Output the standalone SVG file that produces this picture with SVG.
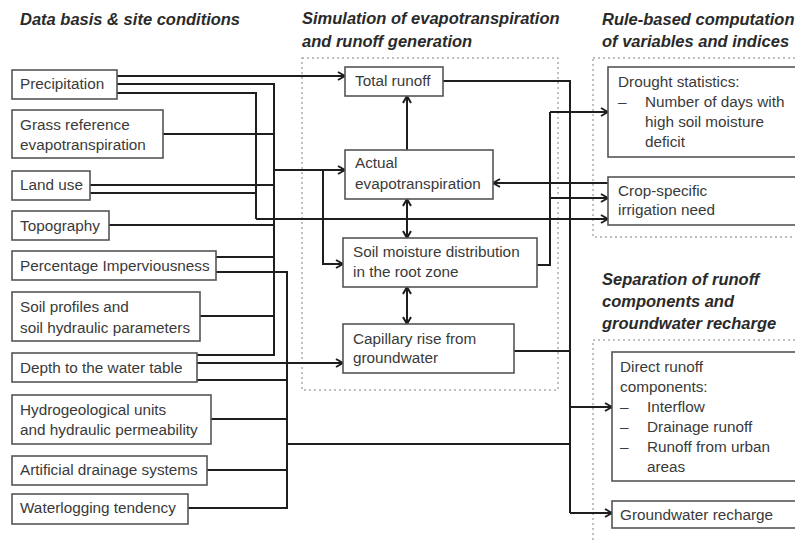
<svg xmlns="http://www.w3.org/2000/svg" width="795" height="540" viewBox="0 0 795 540">
<style>
.t{font-family:"Liberation Sans",Arial,sans-serif;font-size:15.3px;fill:#3a3a3a}
.h{font-family:"Liberation Sans",Arial,sans-serif;font-size:16.5px;font-weight:bold;font-style:italic;fill:#2a2a2a}
.b{fill:#fff;stroke:#555;stroke-width:1.6}
.d{fill:none;stroke:#aaa;stroke-width:1.5;stroke-dasharray:2 3}
.c{fill:none;stroke:#1e1e1e;stroke-width:2}
.a{marker-end:url(#ah)}
.aa{marker-end:url(#ah);marker-start:url(#ah)}
</style>
<defs>
<marker id="ah" viewBox="0 0 10 10" refX="9" refY="5" markerWidth="10" markerHeight="10" markerUnits="userSpaceOnUse" orient="auto-start-reverse">
<path d="M2,1 L9,5 L2,9" fill="none" stroke="#1e1e1e" stroke-width="2"/>
</marker>
</defs>
<rect width="795" height="540" fill="#fff"/>

<g id="titles">
<text class="h" x="20" y="25">Data basis &amp; site conditions</text>
<text class="h" x="302" y="24">Simulation of evapotranspiration</text>
<text class="h" x="302" y="47">and runoff generation</text>
<text class="h" x="602" y="25">Rule-based computation</text>
<text class="h" x="602" y="47">of variables and indices</text>
<text class="h" x="602" y="285">Separation of runoff</text>
<text class="h" x="602" y="307">components and</text>
<text class="h" x="602" y="329">groundwater recharge</text>
</g>

<g id="groups">
<rect class="d" x="302" y="58" width="256" height="332"/>
<rect class="d" x="593" y="58" width="210" height="179"/>
<rect class="d" x="593" y="340" width="210" height="210"/>
</g>

<g id="connectors">
<path class="c a" d="M117,76 H345"/>
<path class="c" d="M117,84 H274 V355 H197"/>
<path class="c" d="M117,93 H256 V219"/>
<path class="c a" d="M256,219 H608"/>
<path class="c" d="M163,134 H274"/>
<path class="c" d="M90,185 H274"/>
<path class="c" d="M90,193 H256"/>
<path class="c" d="M109,225 H274"/>
<path class="c" d="M216,257 H274"/>
<path class="c" d="M200,316 H274"/>
<path class="c a" d="M274,170 H345"/>
<path class="c a" d="M323,170 V264 H343"/>
<path class="c a" d="M197,363 H343"/>
<path class="c" d="M216,272 H287 V508 H188"/>
<path class="c" d="M197,380 H287"/>
<path class="c" d="M211,419 H287"/>
<path class="c" d="M207,470 H287"/>
<path class="c" d="M287,444 H570"/>
<path class="c" d="M443,81 H570 V513"/>
<path class="c a" d="M570,407 H612"/>
<path class="c a" d="M570,513 H612"/>
<path class="c" d="M514,351 H570"/>
<path class="c a" d="M407,150 V96"/>
<path class="c aa" d="M407,199 V238"/>
<path class="c aa" d="M407,287 V324"/>
<path class="c" d="M537,265 H550 V112"/>
<path class="c a" d="M550,112 H608"/>
<path class="c a" d="M550,198 H608"/>
<path class="c a" d="M608,183 H493"/>
</g>

<g id="precipitation"><rect class="b" x="12" y="70" width="105" height="29"/><text class="t" x="20" y="89">Precipitation</text></g>
<g id="grass-reference-et"><rect class="b" x="12" y="110" width="151" height="48"/><text class="t" x="20" y="130">Grass reference</text><text class="t" x="20" y="150">evapotranspiration</text></g>
<g id="land-use"><rect class="b" x="12" y="171" width="78" height="29"/><text class="t" x="20" y="190">Land use</text></g>
<g id="topography"><rect class="b" x="12" y="211" width="97" height="29"/><text class="t" x="20" y="231">Topography</text></g>
<g id="percentage-imperviousness"><rect class="b" x="12" y="251" width="204" height="29"/><text class="t" x="20" y="271">Percentage Imperviousness</text></g>
<g id="soil-profiles"><rect class="b" x="12" y="292" width="188" height="49"/><text class="t" x="20" y="312">Soil profiles and</text><text class="t" x="20" y="333">soil hydraulic parameters</text></g>
<g id="depth-water-table"><rect class="b" x="12" y="353" width="185" height="29"/><text class="t" x="20" y="373">Depth to the water table</text></g>
<g id="hydrogeological-units"><rect class="b" x="12" y="395" width="199" height="49"/><text class="t" x="20" y="415">Hydrogeological units</text><text class="t" x="20" y="435">and hydraulic permeability</text></g>
<g id="artificial-drainage"><rect class="b" x="12" y="456" width="195" height="29"/><text class="t" x="20" y="475">Artificial drainage systems</text></g>
<g id="waterlogging"><rect class="b" x="12" y="494" width="176" height="30"/><text class="t" x="20" y="513">Waterlogging tendency</text></g>

<g id="total-runoff"><rect class="b" x="345" y="67" width="98" height="29"/><text class="t" x="355" y="86">Total runoff</text></g>
<g id="actual-et"><rect class="b" x="345" y="150" width="148" height="49"/><text class="t" x="355" y="168">Actual</text><text class="t" x="355" y="189">evapotranspiration</text></g>
<g id="soil-moisture"><rect class="b" x="343" y="238" width="194" height="49"/><text class="t" x="353" y="257">Soil moisture distribution</text><text class="t" x="353" y="277">in the root zone</text></g>
<g id="capillary-rise"><rect class="b" x="343" y="324" width="171" height="49"/><text class="t" x="353" y="344">Capillary rise from</text><text class="t" x="353" y="363">groundwater</text></g>

<g id="drought-statistics"><rect class="b" x="608" y="67" width="192" height="90"/><text class="t" x="618" y="87">Drought statistics:</text><text class="t" x="618" y="107">–</text><text class="t" x="645" y="107">Number of days with</text><text class="t" x="645" y="127">high soil moisture</text><text class="t" x="645" y="147">deficit</text></g>
<g id="crop-irrigation"><rect class="b" x="608" y="177" width="192" height="48"/><text class="t" x="618" y="196">Crop-specific</text><text class="t" x="618" y="215">irrigation need</text></g>
<g id="direct-runoff"><rect class="b" x="612" y="352" width="188" height="129"/><text class="t" x="620" y="372">Direct runoff</text><text class="t" x="620" y="392">components:</text><text class="t" x="620" y="412">–</text><text class="t" x="647" y="412">Interflow</text><text class="t" x="620" y="432">–</text><text class="t" x="647" y="432">Drainage runoff</text><text class="t" x="620" y="452">–</text><text class="t" x="647" y="452">Runoff from urban</text><text class="t" x="647" y="472">areas</text></g>
<g id="groundwater-recharge"><rect class="b" x="612" y="501" width="188" height="27"/><text class="t" x="620" y="520">Groundwater recharge</text></g>
</svg>
